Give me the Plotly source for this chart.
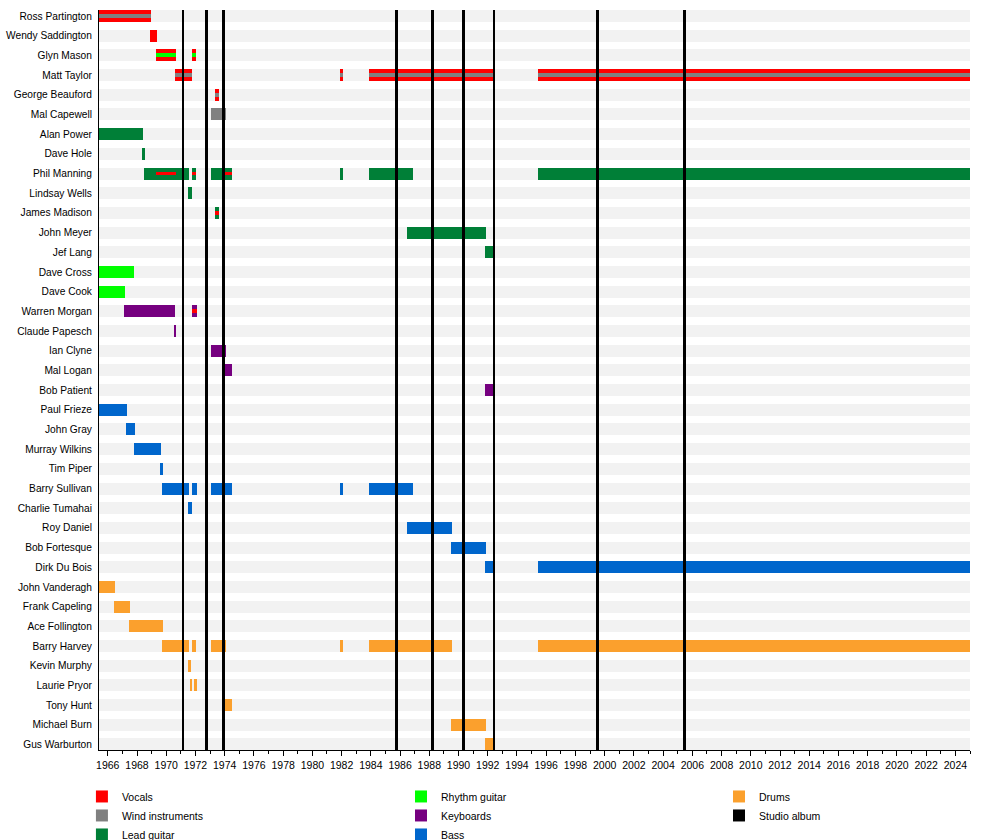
import plotly.graph_objects as go

# ---------------- data ----------------
members = [
    "Ross Partington", "Wendy Saddington", "Glyn Mason", "Matt Taylor", "George Beauford",
    "Mal Capewell", "Alan Power", "Dave Hole", "Phil Manning", "Lindsay Wells",
    "James Madison", "John Meyer", "Jef Lang", "Dave Cross", "Dave Cook",
    "Warren Morgan", "Claude Papesch", "Ian Clyne", "Mal Logan", "Bob Patient",
    "Paul Frieze", "John Gray", "Murray Wilkins", "Tim Piper", "Barry Sullivan",
    "Charlie Tumahai", "Roy Daniel", "Bob Fortesque", "Dirk Du Bois", "John Vanderagh",
    "Frank Capeling", "Ace Follington", "Barry Harvey", "Kevin Murphy", "Laurie Pryor",
    "Tony Hunt", "Michael Burn", "Gus Warburton",
]

# (member, start, end) in decimal years
vocals = [
    ("Ross Partington", 1965.4, 1968.94), ("Wendy Saddington", 1968.9, 1969.35),
    ("Glyn Mason", 1969.3, 1970.65), ("Glyn Mason", 1971.77, 1972.04),
    ("Matt Taylor", 1970.6, 1971.77), ("Matt Taylor", 1981.9, 1982.1),
    ("Matt Taylor", 1983.9, 1992.45), ("Matt Taylor", 1995.45, 2025.0),
    ("George Beauford", 1973.35, 1973.62),
]
vocals_secondary = [
    ("Phil Manning", 1969.3, 1970.65), ("Phil Manning", 1971.77, 1972.04),
    ("Phil Manning", 1974.03, 1974.5), ("James Madison", 1973.35, 1973.62),
    ("Warren Morgan", 1971.77, 1972.1),
]
wind = [("Mal Capewell", 1973.07, 1974.1)]
wind_secondary = [
    ("Ross Partington", 1965.4, 1968.94),
    ("Matt Taylor", 1970.6, 1971.77), ("Matt Taylor", 1981.9, 1982.1),
    ("Matt Taylor", 1983.9, 1992.45), ("Matt Taylor", 1995.45, 2025.0),
    ("George Beauford", 1973.35, 1973.62),
]
lead_guitar = [
    ("Alan Power", 1965.4, 1968.4), ("Dave Hole", 1968.35, 1968.55),
    ("Phil Manning", 1968.5, 1971.56), ("Phil Manning", 1971.77, 1972.04),
    ("Phil Manning", 1973.07, 1974.5), ("Phil Manning", 1981.9, 1982.1),
    ("Phil Manning", 1983.9, 1986.9), ("Phil Manning", 1995.45, 2025.0),
    ("Lindsay Wells", 1971.5, 1971.77), ("James Madison", 1973.35, 1973.62),
    ("John Meyer", 1986.49, 1991.9), ("Jef Lang", 1991.83, 1992.5),
]
rhythm_guitar = [("Dave Cross", 1965.4, 1967.8), ("Dave Cook", 1965.4, 1967.18)]
rhythm_guitar_secondary = [("Glyn Mason", 1969.3, 1970.65), ("Glyn Mason", 1971.77, 1972.04)]
keyboards = [
    ("Warren Morgan", 1967.1, 1970.6), ("Warren Morgan", 1971.77, 1972.1),
    ("Claude Papesch", 1970.55, 1970.68), ("Ian Clyne", 1973.07, 1974.1),
    ("Mal Logan", 1974.03, 1974.5), ("Bob Patient", 1991.83, 1992.5),
]
bass = [
    ("Paul Frieze", 1965.4, 1967.32), ("John Gray", 1967.25, 1967.87),
    ("Murray Wilkins", 1967.8, 1969.65), ("Tim Piper", 1969.58, 1969.79),
    ("Barry Sullivan", 1969.72, 1971.56), ("Barry Sullivan", 1971.77, 1972.1),
    ("Barry Sullivan", 1973.07, 1974.5), ("Barry Sullivan", 1981.9, 1982.1),
    ("Barry Sullivan", 1983.9, 1986.9), ("Charlie Tumahai", 1971.5, 1971.77),
    ("Roy Daniel", 1986.49, 1989.57), ("Bob Fortesque", 1989.5, 1991.9),
    ("Dirk Du Bois", 1991.83, 1992.5), ("Dirk Du Bois", 1995.45, 2025.0),
]
drums = [
    ("John Vanderagh", 1965.4, 1966.5), ("Frank Capeling", 1966.43, 1967.53),
    ("Ace Follington", 1967.46, 1969.8),
    ("Barry Harvey", 1969.72, 1971.56), ("Barry Harvey", 1971.75, 1972.04),
    ("Barry Harvey", 1973.07, 1974.1), ("Barry Harvey", 1981.9, 1982.1),
    ("Barry Harvey", 1983.9, 1989.57), ("Barry Harvey", 1995.45, 2025.0),
    ("Kevin Murphy", 1971.5, 1971.7),
    ("Laurie Pryor", 1971.63, 1971.77), ("Laurie Pryor", 1971.9, 1972.1),
    ("Tony Hunt", 1974.03, 1974.5), ("Michael Burn", 1989.5, 1991.9),
    ("Gus Warburton", 1991.83, 1992.5),
]
studio_albums = [1971.15, 1972.75, 1973.9, 1985.75, 1988.2, 1990.35, 1992.43, 1999.5, 2005.45]

# ---------------- style ----------------
X_MIN, X_MAX = 1965.4, 2025.0
COLORS = {
    "Vocals": "#ff0000", "Wind instruments": "#808080", "Lead guitar": "#007f37",
    "Rhythm guitar": "#00ff00", "Keyboards": "#760080", "Bass": "#0066cc",
    "Drums": "#fba02d", "Studio album": "#000000",
}
BAR_W = 0.61
STRIPE_W = 0.2
FONT = "Liberation Sans, Arial, sans-serif"
NARROW = "Liberation Sans Narrow, Arial Narrow, Liberation Sans, sans-serif"

fig = go.Figure()

# background row bands
fig.add_trace(go.Bar(
    y=members, x=[X_MAX - X_MIN] * len(members), base=[X_MIN] * len(members),
    orientation="h", width=BAR_W, marker=dict(color="#f2f2f2", line=dict(width=0)),
    showlegend=False, hoverinfo="skip",
))


def role_trace(spans, name, width, legend, showlegend):
    return go.Bar(
        y=[s[0] for s in spans],
        x=[s[2] - s[1] for s in spans],
        base=[s[1] for s in spans],
        orientation="h", width=width, name=name, legendgroup=name,
        legend=legend, showlegend=showlegend,
        marker=dict(color=COLORS[name], line=dict(width=0)),
        hovertemplate="%{y}: %{base:.1f}–%{x:.1f}<extra>" + name + "</extra>",
    )


main_roles = [
    (vocals, "Vocals", "legend"), (wind, "Wind instruments", "legend"),
    (lead_guitar, "Lead guitar", "legend"), (rhythm_guitar, "Rhythm guitar", "legend2"),
    (keyboards, "Keyboards", "legend2"), (bass, "Bass", "legend2"),
    (drums, "Drums", "legend3"),
]
for spans, name, lg in main_roles:
    fig.add_trace(role_trace(spans, name, BAR_W, lg, True))

for spans, name in [(vocals_secondary, "Vocals"), (wind_secondary, "Wind instruments"),
                    (rhythm_guitar_secondary, "Rhythm guitar")]:
    lg = "legend2" if name == "Rhythm guitar" else "legend"
    fig.add_trace(role_trace(spans, name, STRIPE_W, lg, False))

# studio album lines (vertical bars on an overlaid 0..1 axis)
fig.add_trace(go.Bar(
    x=studio_albums, y=[1] * len(studio_albums), base=0, yaxis="y2",
    width=0.2, name="Studio album", legend="legend3",
    marker=dict(color=COLORS["Studio album"], line=dict(width=0)),
    hovertemplate="Studio album %{x:.1f}<extra></extra>",
))

n = len(members)
legend_common = dict(
    orientation="v", xanchor="left", yanchor="top", bgcolor="rgba(0,0,0,0)",
    font=dict(family=FONT, size=10.5, color="#000000"), tracegroupgap=0,
    itemclick=False, itemdoubleclick=False,
)
LEG_Y = -0.0432
fig.update_layout(
    width=993, height=840,
    margin=dict(l=99, r=23, t=10, b=90, autoexpand=False),
    paper_bgcolor="white", plot_bgcolor="white",
    barmode="overlay", bargap=0,
    font=dict(family=FONT, size=10.2, color="#000000"),
    xaxis=dict(
        range=[X_MIN, X_MAX], tick0=1966, dtick=2, ticks="outside", ticklen=5,
        tickcolor="#000000", tickwidth=1, showline=True, linecolor="#000000", linewidth=1,
        showgrid=False, zeroline=False,
        tickfont=dict(family=NARROW, size=10.5, color="#000000"),
        minor=dict(dtick=1, tick0=1966, ticks="outside", ticklen=3, tickcolor="#000000", showgrid=False),
    ),
    yaxis=dict(
        type="category", categoryorder="array", categoryarray=members,
        range=[n - 1 + 0.28, -0.305], showline=True, linecolor="#000000", linewidth=1,
        ticks="", showgrid=False, zeroline=False, ticklabelstandoff=4,
        tickfont=dict(family=FONT, size=10.2, color="#000000"),
    ),
    yaxis2=dict(overlaying="y", range=[0, 1], visible=False, fixedrange=True),
    legend=dict(x=-0.0196, y=LEG_Y, **legend_common),
    legend2=dict(x=0.3467, y=LEG_Y, **legend_common),
    legend3=dict(x=0.7118, y=LEG_Y, **legend_common),
)

# remove the browser's default 8px body margin so the figure fills the window
fig.write_html(
    "out.html",
    config={"displayModeBar": False},
    post_script="document.body.style.margin='0';document.body.style.overflow='hidden';",
)
